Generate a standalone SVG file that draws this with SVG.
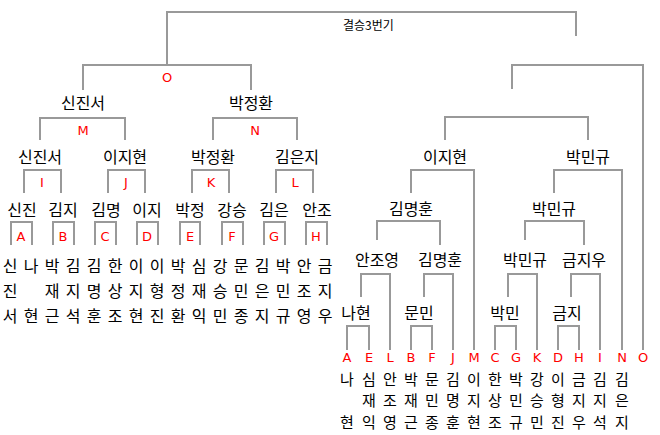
<svg xmlns="http://www.w3.org/2000/svg" width="660" height="435" viewBox="0 0 660 435">
<style>
.l{fill:none;stroke:#999;stroke-width:2}
text{font-family:"Noto Sans CJK KR","Liberation Sans",sans-serif;font-size:16px;fill:#000;text-anchor:middle}
.r{fill:#f00;font-family:"DejaVu Sans","Liberation Sans",sans-serif;font-size:13px}
.t{font-size:12px;text-anchor:start}
.s{font-size:15px}
</style>
<rect width="660" height="435" fill="#fff"/>
<g id="connectors">
<path class="l" d="M167,36V12H576V36"/>
<path class="l" d="M83,90V65H251V90M167,36V65"/>
<path class="l" d="M40,140V118H125V140M213,140V118H297V140"/>
<path class="l" d="M24,193V170H61V193M108,193V170H145V193M192,193V170H229V193M276,193V170H313V193"/>
<path class="l" d="M11,245V222H32V245M53,245V222H74V245M95,245V222H116V245M137,245V222H158V245M180,245V222H200V245M222,245V222H243V245M264,245V222H285V245M306,245V222H327V245"/>
<path class="l" d="M512,89V65H643V350"/>
<path class="l" d="M445,140V117H588V140"/>
<path class="l" d="M411,193V170H474V350M554,193V170H622V350"/>
<path class="l" d="M377,240V221H440V245M525,240V221H584V245"/>
<path class="l" d="M361,297V274H390V350M424,297V274H453V350M508,297V274H537V350M571,297V274H600V350"/>
<path class="l" d="M347,350V326H369V350M411,350V326H432V350M495,350V326H516V350M558,350V326H579V350"/>
</g>
<g id="title"><text class="t" x="343" y="30">결승3번기</text></g>
<g id="matchLetters">
<text class="r" x="167" y="82">O</text>
<text class="r" x="83" y="135">M</text><text class="r" x="255" y="135">N</text>
<text class="r" x="42" y="187">I</text><text class="r" x="126" y="187">J</text><text class="r" x="211" y="187">K</text><text class="r" x="295" y="187">L</text>
<text class="r" x="21" y="241">A</text><text class="r" x="63" y="241">B</text><text class="r" x="105" y="241">C</text><text class="r" x="147" y="241">D</text><text class="r" x="190" y="241">E</text><text class="r" x="232" y="241">F</text><text class="r" x="274" y="241">G</text><text class="r" x="316" y="241">H</text>
<text class="r" x="347" y="362">A</text><text class="r" x="369" y="362">E</text><text class="r" x="390" y="362">L</text><text class="r" x="411" y="362">B</text><text class="r" x="432" y="362">F</text><text class="r" x="453" y="362">J</text><text class="r" x="474" y="362">M</text><text class="r" x="495" y="362">C</text><text class="r" x="516" y="362">G</text><text class="r" x="537" y="362">K</text><text class="r" x="558" y="362">D</text><text class="r" x="579" y="362">H</text><text class="r" x="600" y="362">I</text><text class="r" x="622" y="362">N</text><text class="r" x="643" y="362">O</text>
</g>
<g id="winnersLeft">
<text x="83" y="109">신진서</text><text x="251" y="109">박정환</text>
<text x="40" y="163">신진서</text><text x="125" y="163">이지현</text><text x="213" y="163">박정환</text><text x="297" y="163">김은지</text>
<text x="22" y="216">신진</text><text x="63" y="216">김지</text><text x="106" y="216">김명</text><text x="147" y="216">이지</text><text x="190" y="216">박정</text><text x="232" y="216">강승</text><text x="274" y="216">김은</text><text x="317" y="216">안조</text>
</g>
<g id="winnersRight">
<text x="445" y="163">이지현</text><text x="588" y="163">박민규</text>
<text x="411" y="215">김명훈</text><text x="554" y="215">박민규</text>
<text x="377" y="266">안조영</text><text x="440" y="266">김명훈</text><text x="525" y="266">박민규</text><text x="584" y="266">금지우</text>
<text x="356" y="319">나현</text><text x="419" y="319">문민</text><text x="505" y="319">박민</text><text x="567" y="319">금지</text>
</g>
<g id="playersLeft">
<text x="10" y="272">신</text><text x="10" y="297">진</text><text x="10" y="322">서</text>
<text x="31" y="272">나</text><text x="31" y="322">현</text>
<text x="52" y="272">박</text><text x="52" y="297">재</text><text x="52" y="322">근</text>
<text x="73" y="272">김</text><text x="73" y="297">지</text><text x="73" y="322">석</text>
<text x="94" y="272">김</text><text x="94" y="297">명</text><text x="94" y="322">훈</text>
<text x="115" y="272">한</text><text x="115" y="297">상</text><text x="115" y="322">조</text>
<text x="136" y="272">이</text><text x="136" y="297">지</text><text x="136" y="322">현</text>
<text x="157" y="272">이</text><text x="157" y="297">형</text><text x="157" y="322">진</text>
<text x="178" y="272">박</text><text x="178" y="297">정</text><text x="178" y="322">환</text>
<text x="199" y="272">심</text><text x="199" y="297">재</text><text x="199" y="322">익</text>
<text x="220" y="272">강</text><text x="220" y="297">승</text><text x="220" y="322">민</text>
<text x="241" y="272">문</text><text x="241" y="297">민</text><text x="241" y="322">종</text>
<text x="262" y="272">김</text><text x="262" y="297">은</text><text x="262" y="322">지</text>
<text x="283" y="272">박</text><text x="283" y="297">민</text><text x="283" y="322">규</text>
<text x="304" y="272">안</text><text x="304" y="297">조</text><text x="304" y="322">영</text>
<text x="325" y="272">금</text><text x="325" y="297">지</text><text x="325" y="322">우</text>
</g>
<g id="playersRight" class="s">
<text class="s" x="347" y="385">나</text><text class="s" x="347" y="428">현</text>
<text class="s" x="369" y="385">심</text><text class="s" x="369" y="406">재</text><text class="s" x="369" y="428">익</text>
<text class="s" x="390" y="385">안</text><text class="s" x="390" y="406">조</text><text class="s" x="390" y="428">영</text>
<text class="s" x="411" y="385">박</text><text class="s" x="411" y="406">재</text><text class="s" x="411" y="428">근</text>
<text class="s" x="432" y="385">문</text><text class="s" x="432" y="406">민</text><text class="s" x="432" y="428">종</text>
<text class="s" x="453" y="385">김</text><text class="s" x="453" y="406">명</text><text class="s" x="453" y="428">훈</text>
<text class="s" x="474" y="385">이</text><text class="s" x="474" y="406">지</text><text class="s" x="474" y="428">현</text>
<text class="s" x="495" y="385">한</text><text class="s" x="495" y="406">상</text><text class="s" x="495" y="428">조</text>
<text class="s" x="516" y="385">박</text><text class="s" x="516" y="406">민</text><text class="s" x="516" y="428">규</text>
<text class="s" x="537" y="385">강</text><text class="s" x="537" y="406">승</text><text class="s" x="537" y="428">민</text>
<text class="s" x="558" y="385">이</text><text class="s" x="558" y="406">형</text><text class="s" x="558" y="428">진</text>
<text class="s" x="579" y="385">금</text><text class="s" x="579" y="406">지</text><text class="s" x="579" y="428">우</text>
<text class="s" x="600" y="385">김</text><text class="s" x="600" y="406">지</text><text class="s" x="600" y="428">석</text>
<text class="s" x="622" y="385">김</text><text class="s" x="622" y="406">은</text><text class="s" x="622" y="428">지</text>
</g>
</svg>
